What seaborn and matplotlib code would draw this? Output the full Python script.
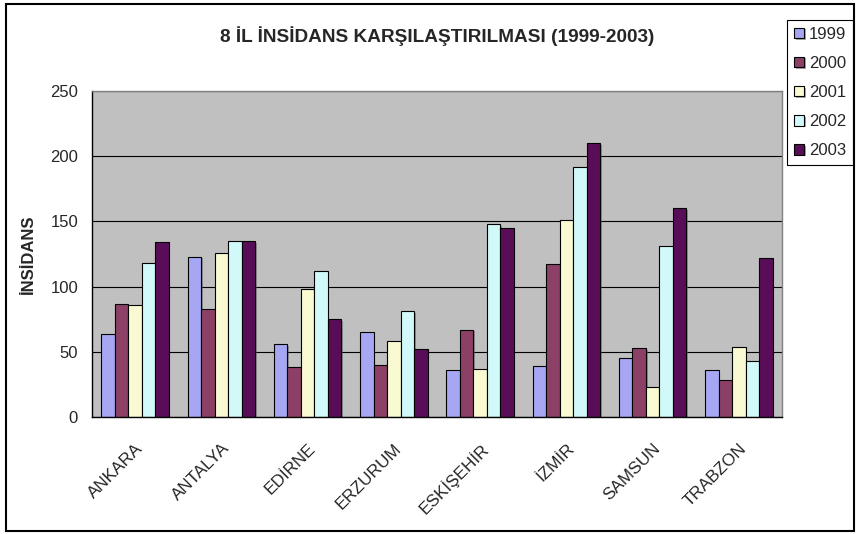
import pandas as pd
import matplotlib.pyplot as plt
import matplotlib.patheffects as pe
from matplotlib.patches import Rectangle
from matplotlib.ticker import FixedLocator
import seaborn as sns

sns.set_style("white")
plt.rcParams['font.family'] = ['Liberation Sans', 'DejaVu Sans']

# values
iller = ['ANKARA', 'ANTALYA', 'EDİRNE', 'ERZURUM', 'ESKİŞEHİR', 'İZMİR', 'SAMSUN', 'TRABZON']
yillar = ['1999', '2000', '2001', '2002', '2003']
v1999 = [64, 123, 56, 65, 36, 39, 45, 36]
v2000 = [87, 83, 38, 40, 67, 117, 53, 28]
v2001 = [86, 126, 98, 58, 37, 151, 23, 54]
v2002 = [118, 135, 112, 81, 148, 192, 131, 43]
v2003 = [134, 135, 75, 52, 145, 210, 160, 122]
renkler = ['#9999FF', '#993366', '#FFFFCC', '#CCFFFF', '#660066']

rows = []
for yil, vals in zip(yillar, [v1999, v2000, v2001, v2002, v2003]):
    for il, v in zip(iller, vals):
        rows.append({'il': il, 'yil': yil, 'insidans': v})
df = pd.DataFrame(rows)

fig = plt.figure(figsize=(8.56, 5.34), dpi=100)
ax = fig.add_axes([92/856, 1 - 417/534, 690/856, 326/534])
ax.set_facecolor('#C0C0C0')

sns.barplot(data=df, x='il', y='insidans', hue='yil', palette=renkler,
            width=0.78, edgecolor='black', linewidth=0.8, ax=ax)

# slight drop shadow like the original
for p in ax.patches:
    p.set_path_effects([pe.SimplePatchShadow(offset=(1.2, -1.2), shadow_rgbFace='#555555', alpha=0.5),
                        pe.Normal()])

ax.set_ylim(0, 250)
ax.set_yticks(range(0, 251, 50))
ax.yaxis.grid(True, color='black', linewidth=0.8)
ax.set_axisbelow(True)
ax.set_xlim(-0.5, len(iller) - 0.5)

ax.tick_params(axis='x', which='major', length=0, pad=17, labelsize=12.3)
ax.xaxis.set_minor_locator(FixedLocator([i - 0.5 for i in range(len(iller) + 1)]))
ax.tick_params(axis='x', which='minor', length=5, width=0.8, color='black', direction='out')
ax.tick_params(axis='y', length=5, width=0.8, color='black', direction='out',
               labelsize=12, pad=5)
plt.setp(ax.get_xticklabels(), rotation=45, ha='right', va='top', rotation_mode='anchor')

ax.set_xlabel('')
ax.set_ylabel('İNSİDANS', fontsize=12, fontweight='bold', labelpad=10)

for s in ['left', 'bottom']:
    ax.spines[s].set_color('black')
    ax.spines[s].set_linewidth(1.0)
for s in ['top', 'right']:
    ax.spines[s].set_color('#808080')
    ax.spines[s].set_linewidth(1.0)

ax.set_title('8 İL İNSİDANS KARŞILAŞTIRILMASI (1999-2003)', fontsize=13.7,
             fontweight='bold', pad=35)

handles, labels = ax.get_legend_handles_labels()
ax.legend(handles, labels, loc='upper right', bbox_to_anchor=(853/856, 1 - 20/534),
          bbox_transform=fig.transFigure, borderaxespad=0, frameon=True,
          fancybox=False, edgecolor='black', framealpha=1, fontsize=12,
          handlelength=0.6, handleheight=0.6, handletextpad=0.3,
          labelspacing=0.85, borderpad=0.4, title=None)
ax.get_legend().get_frame().set_linewidth(0.8)

# outer chart border
fig.patches.append(Rectangle((6/856, 3/534), 848/856, 527/534, transform=fig.transFigure,
                             fill=False, edgecolor='black', linewidth=1.5))

plt.savefig('out.png', dpi=100)
